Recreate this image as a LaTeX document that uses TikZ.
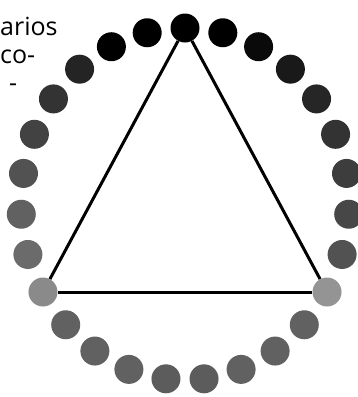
\documentclass[tikz,border=0pt]{standalone}
\usepackage{fontspec}
\setmainfont{Open Sans}
\begin{document}
\begin{tikzpicture}[x=1pt,y=-1pt,
  dot/.style={circle,inner sep=0pt,minimum size=29pt},
  edge/.style={line width=3pt,black},
  txt/.style={anchor=base west,inner sep=0pt,font=\fontsize{25}{28}\selectfont}]
\useasboundingbox (0,0) rectangle (358,397);
\foreach \k/\g in {0/100,1/100,2/96,3/90,4/85,5/80,6/76,7/72,8/68,9/42,10/62,11/62,12/62,13/64,14/64,15/62,16/62,17/62,18/46,19/58,20/62,21/68,22/74,23/80,24/86,25/100,26/100}{
  \pgfmathsetmacro{\ang}{90-\k*360/27}
  \node[dot,fill=black!\g] (d\k) at ({185+164*cos(\ang)},{204-176*sin(\ang)}) {};
}
\draw[edge] (d0) -- (d9);
\draw[edge] (d9) -- (d18);
\draw[edge] (d18) -- (d0);
\node[txt] (t1) at (0,35) {arios};
\node[txt] (t2) at (0,63) {co-};
\node[txt] (t3) at (9,91) {-};
\end{tikzpicture}
\end{document}
